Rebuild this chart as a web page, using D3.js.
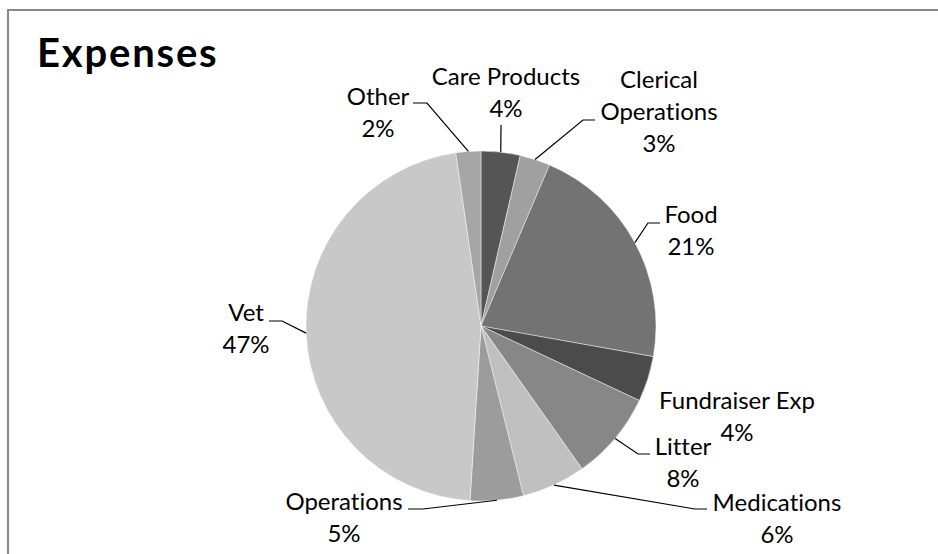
<!DOCTYPE html>
<html>
<head>
<meta charset="utf-8">
<script src="https://cdn.jsdelivr.net/npm/d3@7"></script>
<style>
  html, body { margin: 0; padding: 0; background: #fff; }
  svg { display: block; }
  text { font-family: Lato, "Open Sans", sans-serif; fill: #000; font-variant-ligatures: none; }
</style>
</head>
<body>
<svg id="chart" width="938" height="554"></svg>
<script>
// ---- data ----
const categories = ["Care Products", "Clerical Operations", "Food", "Fundraiser Exp", "Litter", "Medications", "Operations", "Vet", "Other"];
const values = [3.6, 2.8, 21.4, 4.2, 8.2, 5.9, 4.9, 46.7, 2.3];
const sliceColors = ["#555555", "#a0a0a0", "#737373", "#4b4b4b", "#878787", "#c0c0c0", "#9c9c9c", "#c8c8c8", "#a6a6a6"];
const chartTitle = "Expenses";

// ---- layout ----
const W = 938, H = 554;
const cx = 481, cy = 326, R = 175;
const fontSize = 24, lineH = 32;
// label layout: text lines centred at x (relative to pie centre), first baseline y;
// leader: elbow point and end point (relative), or null
const labelLayout = {
  "Care Products":       { x: 25,  y: -241, lines: ["Care Products"], leader: { elbow: [20, -201], end: [20, -201] } },
  "Clerical Operations": { x: 178, y: -238, lines: ["Clerical", "Operations"], leader: { elbow: [102, -206], end: [114, -206] } },
  "Food":                { x: 210, y: -103, lines: ["Food"], leader: { elbow: [167, -103], end: [179, -103] } },
  "Fundraiser Exp":      { x: 256, y: 83,   lines: ["Fundraiser Exp"], leader: null },
  "Litter":              { x: 202, y: 129,  lines: ["Litter"], leader: { elbow: [157, 128], end: [169, 128] } },
  "Medications":         { x: 296, y: 185,  lines: ["Medications"], leader: { elbow: [214, 183], end: [226, 183] } },
  "Operations":          { x: -137, y: 184, lines: ["Operations"], leader: { elbow: [-58, 183], end: [-73, 183] } },
  "Vet":                 { x: -235, y: -5,  lines: ["Vet"], leader: { elbow: [-199, -5], end: [-212, -5] } },
  "Other":               { x: -103, y: -221, lines: ["Other"], leader: { elbow: [-54, -223], end: [-68, -223] } }
};

const svg = d3.select("#chart");

// frame
svg.append("path")
  .attr("d", `M8,${H} L8,10 L${W},10`)
  .attr("fill", "none")
  .attr("stroke", "#888888")
  .attr("stroke-width", 2);

// title
svg.append("text")
  .attr("x", 37).attr("y", 67)
  .attr("font-size", 40)
  .attr("font-weight", "bold")
  .attr("letter-spacing", 1.8)
  .text(chartTitle);

const total = d3.sum(values);
const data = categories.map((c, i) => ({ name: c, value: values[i], color: sliceColors[i] }));

const pie = d3.pie().value(d => d.value).sort(null).startAngle(0).endAngle(2 * Math.PI);
const arcs = pie(data);
const arc = d3.arc().innerRadius(0).outerRadius(R);

const g = svg.append("g").attr("transform", `translate(${cx},${cy})`);

g.selectAll("path.slice")
  .data(arcs)
  .join("path")
  .attr("class", "slice")
  .attr("d", arc)
  .attr("fill", d => d.data.color)
  .attr("stroke", "#ffffff")
  .attr("stroke-opacity", 0.55)
  .attr("stroke-width", 0.8);

const pct = d3.format(".0%");

// leader lines
arcs.forEach(a => {
  const L = labelLayout[a.data.name];
  if (!L.leader) return;
  const mid = (a.startAngle + a.endAngle) / 2;
  const px = R * Math.sin(mid), py = -R * Math.cos(mid);
  g.append("polyline")
    .attr("points", [[px, py], L.leader.elbow, L.leader.end].map(p => p.join(",")).join(" "))
    .attr("fill", "none")
    .attr("stroke", "#000")
    .attr("stroke-width", 1.2);
});

// labels
arcs.forEach(a => {
  const L = labelLayout[a.data.name];
  const t = g.append("text")
    .attr("text-anchor", "middle")
    .attr("font-size", fontSize);
  const lines = L.lines.concat([pct(a.data.value / total)]);
  lines.forEach((ln, i) => {
    t.append("tspan")
      .attr("x", L.x)
      .attr("y", L.y + i * lineH)
      .text(ln);
  });
});
</script>
</body>
</html>
